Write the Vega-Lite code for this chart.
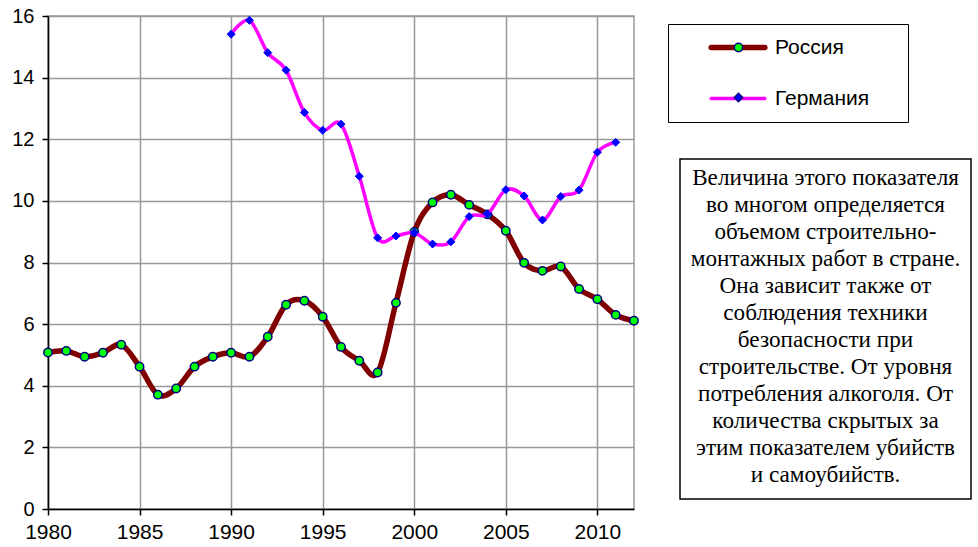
{
  "$schema": "https://vega.github.io/schema/vega-lite/v6.json",
  "background": "white",
  "padding": {"left": 11, "top": 5, "right": 0, "bottom": 0},
  "config": {"view": {"stroke": null}, "font": "Liberation Sans"},
  "bounds": "flush",
  "spacing": 46,
  "datasets": {
    "series": [
      {"year": 1980, "series": "Россия", "value": 5.08},
      {"year": 1981, "series": "Россия", "value": 5.13},
      {"year": 1982, "series": "Россия", "value": 4.94},
      {"year": 1983, "series": "Россия", "value": 5.07},
      {"year": 1984, "series": "Россия", "value": 5.33},
      {"year": 1985, "series": "Россия", "value": 4.62},
      {"year": 1986, "series": "Россия", "value": 3.71},
      {"year": 1987, "series": "Россия", "value": 3.91},
      {"year": 1988, "series": "Россия", "value": 4.62},
      {"year": 1989, "series": "Россия", "value": 4.94},
      {"year": 1990, "series": "Россия", "value": 5.07},
      {"year": 1991, "series": "Россия", "value": 4.94},
      {"year": 1992, "series": "Россия", "value": 5.59},
      {"year": 1993, "series": "Россия", "value": 6.63},
      {"year": 1994, "series": "Россия", "value": 6.76},
      {"year": 1995, "series": "Россия", "value": 6.24},
      {"year": 1996, "series": "Россия", "value": 5.26},
      {"year": 1997, "series": "Россия", "value": 4.81},
      {"year": 1998, "series": "Россия", "value": 4.43},
      {"year": 1999, "series": "Россия", "value": 6.69},
      {"year": 2000, "series": "Россия", "value": 8.99},
      {"year": 2001, "series": "Россия", "value": 9.95},
      {"year": 2002, "series": "Россия", "value": 10.2},
      {"year": 2003, "series": "Россия", "value": 9.87},
      {"year": 2004, "series": "Россия", "value": 9.56},
      {"year": 2005, "series": "Россия", "value": 9.03},
      {"year": 2006, "series": "Россия", "value": 7.99},
      {"year": 2007, "series": "Россия", "value": 7.73},
      {"year": 2008, "series": "Россия", "value": 7.87},
      {"year": 2009, "series": "Россия", "value": 7.14},
      {"year": 2010, "series": "Россия", "value": 6.81},
      {"year": 2011, "series": "Россия", "value": 6.30},
      {"year": 2012, "series": "Россия", "value": 6.11},
      {"year": 1990, "series": "Германия", "value": 15.41},
      {"year": 1991, "series": "Германия", "value": 15.86},
      {"year": 1992, "series": "Германия", "value": 14.81},
      {"year": 1993, "series": "Германия", "value": 14.24},
      {"year": 1994, "series": "Германия", "value": 12.87},
      {"year": 1995, "series": "Германия", "value": 12.29},
      {"year": 1996, "series": "Германия", "value": 12.49},
      {"year": 1997, "series": "Германия", "value": 10.80},
      {"year": 1998, "series": "Германия", "value": 8.80},
      {"year": 1999, "series": "Германия", "value": 8.86},
      {"year": 2000, "series": "Германия", "value": 8.97},
      {"year": 2001, "series": "Германия", "value": 8.60},
      {"year": 2002, "series": "Германия", "value": 8.67},
      {"year": 2003, "series": "Германия", "value": 9.49},
      {"year": 2004, "series": "Германия", "value": 9.57},
      {"year": 2005, "series": "Германия", "value": 10.36},
      {"year": 2006, "series": "Германия", "value": 10.16},
      {"year": 2007, "series": "Германия", "value": 9.38},
      {"year": 2008, "series": "Германия", "value": 10.14},
      {"year": 2009, "series": "Германия", "value": 10.35},
      {"year": 2010, "series": "Германия", "value": 11.58},
      {"year": 2011, "series": "Германия", "value": 11.90}
    ],
    "note": [
      {"i": 0, "line": "Величина этого показателя"},
      {"i": 1, "line": "во многом определяется"},
      {"i": 2, "line": "объемом строительно-"},
      {"i": 3, "line": "монтажных работ в стране."},
      {"i": 4, "line": "Она зависит также от"},
      {"i": 5, "line": "соблюдения техники"},
      {"i": 6, "line": "безопасности при"},
      {"i": 7, "line": "строительстве. От уровня"},
      {"i": 8, "line": "потребления алкоголя. От"},
      {"i": 9, "line": "количества скрытых за"},
      {"i": 10, "line": "этим показателем убийств"},
      {"i": 11, "line": "и самоубийств."}
    ]
  },
  "hconcat": [
    {
      "width": 586,
      "height": 493,
      "view": {"stroke": "#999999", "strokeWidth": 1.5},
      "data": {"name": "series"},
      "encoding": {
        "x": {
          "field": "year", "type": "quantitative",
          "scale": {"domain": [1980, 2012], "nice": false, "zero": false},
          "axis": {
            "title": null, "values": [1980, 1985, 1990, 1995, 2000, 2005, 2010], "format": "d",
            "grid": true, "gridColor": "#999999", "gridWidth": 1.5, "gridOpacity": 1,
            "domainColor": "black", "domainWidth": 1.5, "tickColor": "black", "tickWidth": 1.5, "tickSize": 6,
            "labelFont": "Liberation Sans", "labelFontSize": 21, "labelColor": "black", "labelPadding": 6,
            "labelFlush": false, "labelOverlap": false
          }
        },
        "y": {
          "field": "value", "type": "quantitative",
          "scale": {"domain": [0, 16], "nice": false},
          "axis": {
            "title": null, "values": [0, 2, 4, 6, 8, 10, 12, 14, 16],
            "grid": true, "gridColor": "#999999", "gridWidth": 1.5, "gridOpacity": 1,
            "domainColor": "black", "domainWidth": 1.5, "tickColor": "black", "tickWidth": 1.5, "tickSize": 6,
            "labelFont": "Liberation Sans", "labelFontSize": 20, "labelColor": "black", "labelPadding": 8,
            "labelFlush": false, "labelOverlap": false
          }
        }
      },
      "layer": [
        {
          "transform": [{"filter": "datum.series === 'Россия'"}],
          "mark": {"type": "line", "interpolate": "cardinal", "tension": 0, "strokeCap": "round", "strokeJoin": "round"},
          "encoding": {
            "stroke": {
              "field": "series", "type": "nominal",
              "scale": {"domain": ["Россия", "Германия"], "range": ["#800000", "#FF00FF"]},
              "legend": {
                "title": " ", "titleOrient": "right", "titleFontSize": 1, "titlePadding": 26,
                "orient": "none", "legendX": 620, "legendY": 8,
                "strokeColor": "black", "padding": 13, "symbolType": "M-6,0H6", "symbolSize": 80,
                "symbolOffset": 46.5, "labelOffset": 26.5, "rowPadding": 28,
                "labelFont": "Liberation Sans", "labelFontSize": 21, "labelColor": "black",
                "encode": {"symbols": {"update": {"strokeCap": {"value": "round"}}}}
              }
            },
            "strokeWidth": {
              "field": "series", "type": "nominal",
              "scale": {"domain": ["Россия", "Германия"], "range": [5.5, 3.5]}
            }
          }
        },
        {
          "transform": [{"filter": "datum.series === 'Россия'"}],
          "mark": {"type": "point", "filled": true, "opacity": 1, "stroke": "#000080", "strokeWidth": 1.5, "size": 70},
          "encoding": {
            "fill": {
              "field": "series", "type": "nominal",
              "scale": {"domain": ["Германия", "Россия"], "range": ["#0000FF", "#00FF00"]},
              "legend": {
                "title": null, "orient": "none", "legendX": 620, "legendY": 8, "values": ["Россия", "Германия"],
                "padding": 13, "symbolSize": 70, "symbolOffset": 47, "rowPadding": 28,
                "symbolStrokeColor": "#000080", "symbolStrokeWidth": 1.5, "symbolOpacity": 1,
                "labelFont": "Liberation Sans", "labelFontSize": 21, "labelExpr": "''"
              }
            },
            "shape": {
              "field": "series", "type": "nominal",
              "scale": {"domain": ["Германия", "Россия"], "range": ["diamond", "circle"]}
            }
          }
        },
        {
          "transform": [{"filter": "datum.series === 'Германия'"}],
          "mark": {"type": "line", "interpolate": "cardinal", "tension": 0, "strokeCap": "round", "strokeJoin": "round"},
          "encoding": {
            "stroke": {"field": "series", "type": "nominal"},
            "strokeWidth": {"field": "series", "type": "nominal"}
          }
        },
        {
          "transform": [{"filter": "datum.series === 'Германия'"}],
          "mark": {"type": "point", "filled": true, "opacity": 1, "stroke": "#0000FF", "strokeWidth": 1, "size": 64},
          "encoding": {
            "fill": {"field": "series", "type": "nominal"},
            "shape": {"field": "series", "type": "nominal"}
          }
        }
      ]
    },
    {
      "spacing": 0,
      "bounds": "flush",
      "vconcat": [
        {
          "width": 291,
          "height": 143,
          "data": {"values": []},
          "mark": "text",
          "encoding": {}
        },
        {
          "width": 291,
          "height": 340,
          "view": {"stroke": "black", "strokeWidth": 1.5},
          "data": {"name": "note"},
          "mark": {"type": "text", "font": "Liberation Serif", "fontSize": 23.2, "align": "center", "baseline": "alphabetic", "color": "black"},
          "encoding": {
            "y": {"field": "i", "type": "quantitative", "scale": {"domain": [-0.962, 11.617], "reverse": true, "nice": false, "zero": false}, "axis": null},
            "text": {"field": "line", "type": "nominal"}
          }
        }
      ]
    }
  ]
}
